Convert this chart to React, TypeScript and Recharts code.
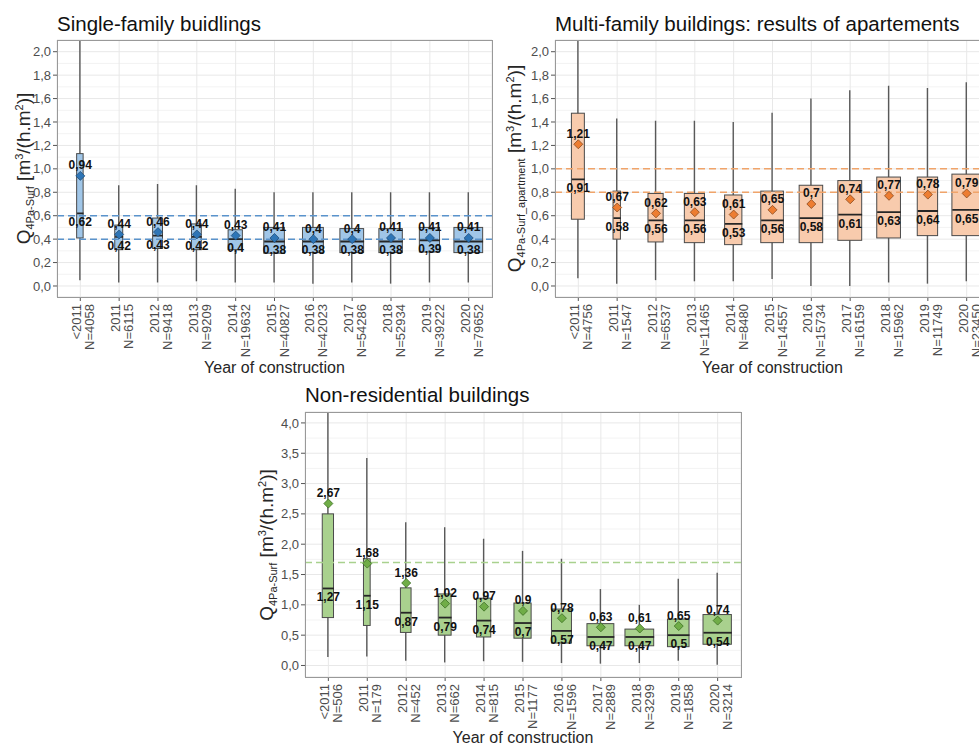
import React from 'react';
import { ComposedChart, Bar, Scatter, XAxis, YAxis, CartesianGrid, ReferenceLine } from 'recharts';

const years = ['<2011', '2011', '2012', '2013', '2014', '2015', '2016', '2017', '2018', '2019', '2020'];

// Single-family buildings
const sfN = [4058, 6115, 9418, 9209, 19632, 40827, 42023, 54286, 52934, 39222, 79652];
const sfMin = [0.05, 0.03, 0.03, 0.04, 0.03, 0.03, 0.02, 0.03, 0.02, 0.03, 0.03];
const sfQ1 = [0.41, 0.31, 0.32, 0.31, 0.31, 0.28, 0.285, 0.285, 0.285, 0.29, 0.285];
const sfMedian = [0.62, 0.42, 0.43, 0.42, 0.4, 0.38, 0.38, 0.38, 0.38, 0.39, 0.38];
const sfQ3 = [1.13, 0.52, 0.58, 0.53, 0.48, 0.5, 0.5, 0.49, 0.49, 0.5, 0.5];
const sfMax = [2.6, 0.86, 0.87, 0.86, 0.83, 0.8, 0.8, 0.8, 0.8, 0.8, 0.8];
const sfMean = [0.94, 0.44, 0.46, 0.44, 0.43, 0.41, 0.4, 0.4, 0.41, 0.41, 0.41];

// Multi-family buildings (apartments)
const mfN = [4756, 1547, 6537, 11465, 8480, 14557, 15734, 16159, 15962, 11749, 23450];
const mfMin = [0.066, 0.02, 0.05, 0.04, 0.04, 0.06, 0.0, 0.0, 0.03, 0.02, 0.04];
const mfQ1 = [0.57, 0.4, 0.376, 0.37, 0.353, 0.37, 0.37, 0.39, 0.41, 0.43, 0.43];
const mfMedian = [0.91, 0.58, 0.56, 0.56, 0.53, 0.56, 0.58, 0.61, 0.63, 0.64, 0.65];
const mfQ3 = [1.475, 0.81, 0.79, 0.79, 0.777, 0.81, 0.86, 0.9, 0.93, 0.93, 0.955];
const mfMax = [2.5, 1.43, 1.41, 1.41, 1.4, 1.48, 1.6, 1.67, 1.71, 1.69, 1.74];
const mfMean = [1.21, 0.67, 0.62, 0.63, 0.61, 0.65, 0.7, 0.74, 0.77, 0.78, 0.79];

// Non-residential buildings
const nrN = [506, 179, 452, 662, 815, 1177, 1596, 2889, 3299, 1858, 3214];
const nrMin = [0.14, 0.15, 0.08, 0.05, 0.07, 0.06, 0.04, 0.03, 0.04, 0.08, 0.01];
const nrQ1 = [0.79, 0.66, 0.545, 0.5, 0.47, 0.45, 0.37, 0.325, 0.325, 0.31, 0.35];
const nrMedian = [1.27, 1.15, 0.87, 0.79, 0.74, 0.7, 0.57, 0.47, 0.47, 0.5, 0.54];
const nrQ3 = [2.5, 1.76, 1.28, 1.18, 1.11, 1.03, 0.93, 0.69, 0.6, 0.765, 0.84];
const nrMax = [5.0, 3.42, 2.36, 2.28, 2.09, 1.89, 1.76, 1.26, 1.0, 1.43, 1.53];
const nrMean = [2.67, 1.68, 1.36, 1.02, 0.97, 0.9, 0.78, 0.63, 0.61, 0.65, 0.74];

const resTicks = [0, 0.2, 0.4, 0.6, 0.8, 1.0, 1.2, 1.4, 1.6, 1.8, 2.0];
const resMinor = [0.1, 0.3, 0.5, 0.7, 0.9, 1.1, 1.3, 1.5, 1.7, 1.9];
const nrTicks = [0, 0.5, 1.0, 1.5, 2.0, 2.5, 3.0, 3.5, 4.0];
const nrMinor = [0.25, 0.75, 1.25, 1.75, 2.25, 2.75, 3.25, 3.75];

const FONT = '"Liberation Sans", Arial, Helvetica, sans-serif';
const BAND = 435 / 11.2;
const BAR = 30;

const fmt = (v: number) => String(v).replace('.', ',');
const tickFmt = (v: number) => v.toFixed(1).replace('.', ',');

function buildRows(n: number[], lo: number[], q1: number[], med: number[], q3: number[], hi: number[], mean: number[]) {
  return years.map((year, i) => ({
    year,
    n: n[i],
    whisker: [lo[i], hi[i]],
    box: [q1[i], q3[i]],
    median: med[i],
    mean: mean[i],
  }));
}

const sfRows = buildRows(sfN, sfMin, sfQ1, sfMedian, sfQ3, sfMax, sfMean);
const mfRows = buildRows(mfN, mfMin, mfQ1, mfMedian, mfQ3, mfMax, mfMean);
const nrRows = buildRows(nrN, nrMin, nrQ1, nrMedian, nrQ3, nrMax, nrMean);

const YearTick: React.FC<any> = ({ x, y, payload, index, counts }) => (
  <g transform={`translate(${x},${y + 1}) rotate(-90)`}>
    <text x={0} y={1} textAnchor="end" fontSize={13} fill="#4d4d4d">{payload.value}</text>
    <text x={0} y={14} textAnchor="end" fontSize={13} fill="#4d4d4d">{`N=${counts[index]}`}</text>
  </g>
);

interface PanelProps {
  rows: any[];
  width: number;
  height: number;
  margin: { top: number; right: number; bottom: number; left: number };
  domain: [number, number];
  ticks: number[];
  minor: number[];
  refs: number[];
  fill: string;
  meanFill: string;
  meanStroke: string;
  refColor: string;
}

const Panel: React.FC<PanelProps> = ({ rows, width, height, margin, domain, ticks, minor, refs, fill, meanFill, meanStroke, refColor }) => {
  const nMax = Math.max(...rows.map((r) => r.n));
  const boxW = (n: number) => 0.74 * BAND * Math.sqrt(n / nMax);
  const counts = rows.map((r) => r.n);

  const whiskerShape = (p: any) => {
    const cx = p.x + p.width / 2;
    return <line x1={cx} x2={cx} y1={p.y} y2={p.y + p.height} stroke="#595959" strokeWidth={1.4} />;
  };
  const boxShape = (p: any) => {
    const cx = p.x + p.width / 2;
    const w = boxW(p.payload.n);
    return <rect x={cx - w / 2} y={p.y} width={w} height={p.height} fill={fill} stroke="#4a4a4a" strokeWidth={1} />;
  };
  const medianShape = (p: any) => {
    const w = boxW(p.payload.n);
    return (
      <g>
        <line x1={p.cx - w / 2} x2={p.cx + w / 2} y1={p.cy} y2={p.cy} stroke="#262626" strokeWidth={1.8} />
        <text x={p.cx} y={p.cy + 13} textAnchor="middle" fontSize={12} fontWeight="bold" fill="#111">{fmt(p.payload.median)}</text>
      </g>
    );
  };
  const meanShape = (p: any) => {
    const s = 4.5;
    return (
      <g>
        <polygon
          points={`${p.cx},${p.cy - s} ${p.cx + s},${p.cy} ${p.cx},${p.cy + s} ${p.cx - s},${p.cy}`}
          fill={meanFill}
          stroke={meanStroke}
          strokeWidth={0.8}
        />
        <text x={p.cx} y={p.cy - 6.5} textAnchor="middle" fontSize={12} fontWeight="bold" fill="#111">{fmt(p.payload.mean)}</text>
      </g>
    );
  };

  return (
    <ComposedChart width={width} height={height} data={rows} margin={margin} barSize={BAR} barGap={-BAR}>
      {/* minor grid from a hidden axis, then the major grid */}
      <CartesianGrid yAxisId="minor" vertical={false} stroke="#f3f3f3" />
      <CartesianGrid stroke="#e8e8e8" />
      <XAxis
        dataKey="year"
        interval={0}
        padding={{ left: BAND * 0.1, right: BAND * 0.1 }}
        height={68}
        tickSize={4}
        tickMargin={2}
        axisLine={false}
        tickLine={{ stroke: '#555' }}
        tick={<YearTick counts={counts} />}
      />
      <YAxis yAxisId="minor" hide type="number" domain={domain} allowDataOverflow ticks={minor} interval={0} />
      <YAxis
        type="number"
        domain={domain}
        allowDataOverflow
        ticks={ticks}
        interval={0}
        tickFormatter={tickFmt}
        width={45}
        tickSize={4}
        tickMargin={2}
        axisLine={false}
        tickLine={{ stroke: '#555' }}
        tick={{ fill: '#4d4d4d', fontSize: 13 }}
      />
      <Bar dataKey="whisker" isAnimationActive={false} shape={whiskerShape} />
      <Bar dataKey="box" isAnimationActive={false} shape={boxShape} />
      {refs.map((v) => (
        <ReferenceLine key={v} y={v} stroke={refColor} strokeDasharray="7 4" strokeWidth={1.5} />
      ))}
      <Scatter dataKey="median" isAnimationActive={false} shape={medianShape} />
      <Scatter dataKey="mean" isAnimationActive={false} shape={meanShape} />
    </ComposedChart>
  );
};

const YTitle: React.FC<{ x: number; y: number; sub: string }> = ({ x, y, sub }) => (
  <text transform={`translate(${x},${y}) rotate(-90)`} textAnchor="middle" fontSize={19} fill="#262626">
    Q<tspan fontSize={11} dy={4}>{sub}</tspan>
    <tspan dy={-4}> [m</tspan>
    <tspan fontSize={11} dy={-7}>3</tspan>
    <tspan dy={7}>/(h.m</tspan>
    <tspan fontSize={11} dy={-7}>2</tspan>
    <tspan dy={7}>)]</tspan>
  </text>
);

export default function App() {
  return (
    <div style={{ position: 'absolute', left: 0, top: 0, width: 979, height: 745, overflow: 'hidden', background: '#fff', fontFamily: FONT }}>
      <div style={{ position: 'absolute', left: 0, top: 0 }}>
        <Panel
          rows={sfRows}
          width={500}
          height={365}
          margin={{ top: 40, right: 8, bottom: 0, left: 12 }}
          domain={[-0.094, 2.1]}
          ticks={resTicks}
          minor={resMinor}
          refs={[0.6, 0.4]}
          fill="#a0c6e8"
          meanFill="#2e75b6"
          meanStroke="#1f4e79"
          refColor="#5a93cc"
        />
      </div>
      <div style={{ position: 'absolute', left: 490, top: 0 }}>
        <Panel
          rows={mfRows}
          width={500}
          height={365}
          margin={{ top: 40, right: 0, bottom: 0, left: 20 }}
          domain={[-0.094, 2.1]}
          ticks={resTicks}
          minor={resMinor}
          refs={[1.0, 0.8]}
          fill="#f8cbad"
          meanFill="#ed7d31"
          meanStroke="#8a4a1e"
          refColor="#f0a46a"
        />
      </div>
      <div style={{ position: 'absolute', left: 250, top: 370 }}>
        <Panel
          rows={nrRows}
          width={491}
          height={375}
          margin={{ top: 42, right: 0, bottom: 0, left: 10 }}
          domain={[-0.19, 4.18]}
          ticks={nrTicks}
          minor={nrMinor}
          refs={[1.7]}
          fill="#a9d18e"
          meanFill="#70ad47"
          meanStroke="#3b6e22"
          refColor="#a9d18e"
        />
      </div>
      <svg width={979} height={745} style={{ position: 'absolute', left: 0, top: 0, pointerEvents: 'none' }}>
        <rect x={57.5} y={40.5} width={435} height={257} fill="none" stroke="#999" />
        <rect x={555.5} y={40.5} width={435} height={257} fill="none" stroke="#999" />
        <rect x={305.5} y={412.5} width={436} height={265} fill="none" stroke="#999" />
        <text x={57} y={30.5} fontSize={20.5} fill="#111">Single-family buidlings</text>
        <text x={555} y={30.5} fontSize={20.5} fill="#111">Multi-family buildings: results of apartements</text>
        <text x={305} y={402} fontSize={20.5} fill="#111">Non-residential buildings</text>
        <text x={274.5} y={373} fontSize={16} fill="#262626" textAnchor="middle">Year of construction</text>
        <text x={772.5} y={373} fontSize={16} fill="#262626" textAnchor="middle">Year of construction</text>
        <text x={523} y={743} fontSize={16} fill="#262626" textAnchor="middle">Year of construction</text>
        <YTitle x={30} y={168.5} sub="4Pa-Surf" />
        <YTitle x={521} y={168.5} sub="4Pa-Surf_apartment" />
        <YTitle x={273} y={545} sub="4Pa-Surf" />
      </svg>
    </div>
  );
}
